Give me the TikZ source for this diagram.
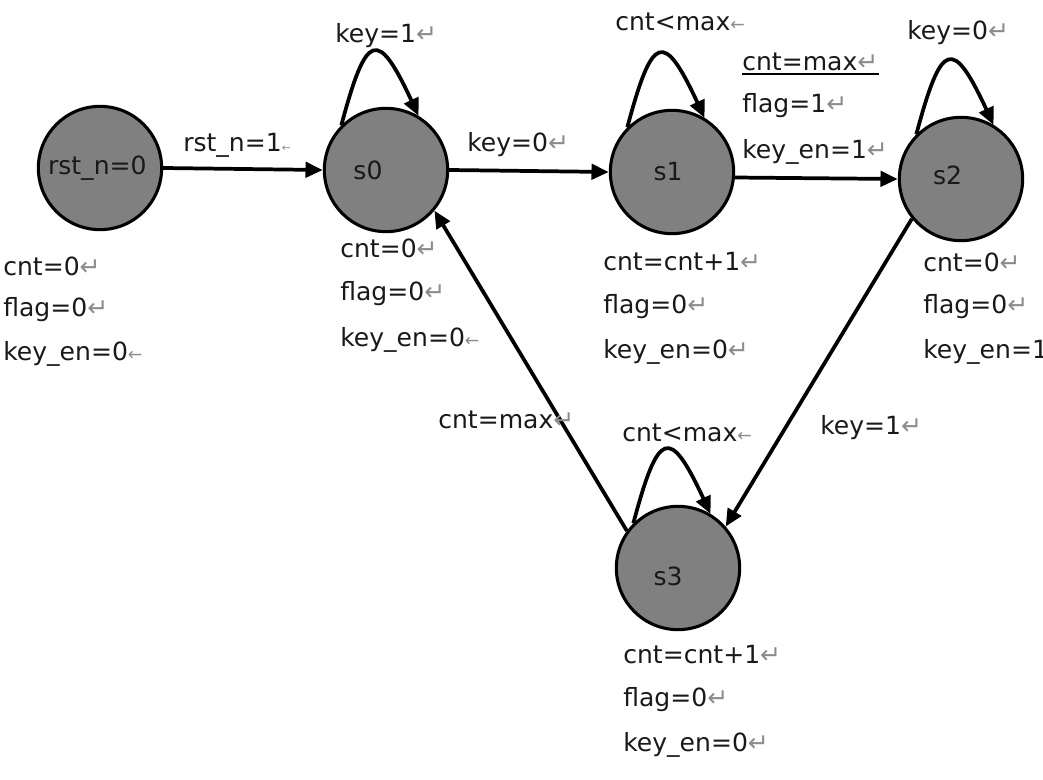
\documentclass[tikz,border=0pt]{standalone}
\usepackage{fontspec}
\setmainfont{DejaVu Sans}
\usetikzlibrary{arrows.meta}
\definecolor{statefill}{RGB}{128,128,128}
\definecolor{pmark}{RGB}{140,140,140}
\definecolor{txt}{RGB}{25,25,25}
\newcommand{\parmark}{\textcolor{pmark}{↵}}
\newcommand{\smark}{\textcolor{pmark}{\fontsize{13pt}{13pt}\selectfont ←}}
\newcommand{\tmark}{\textcolor{pmark}{\fontsize{8pt}{8pt}\selectfont ←}}
\begin{document}
\begin{tikzpicture}[x=0.75pt,y=0.75pt,
  state/.style={circle, draw=black, line width=2.3pt, fill=statefill, minimum size=92.5pt, inner sep=0pt},
  lbl/.style={anchor=west, inner sep=0pt, text=txt, font=\fontsize{18.8pt}{22pt}\selectfont},
  stxt/.style={inner sep=0pt, text=txt, font=\fontsize{18.8pt}{22pt}\selectfont},
  edge/.style={line width=2.8pt, -{Triangle[length=13pt,width=11.5pt]}},
  loopedge/.style={edge, out=75, in=115, looseness=3.2}]
\useasboundingbox (0,0) rectangle (1043,779);

% states
\node[state, label={[stxt, name=rstt, xshift=-2pt]center:rst\_n=0}] (rst) at (100,611) {};
\node[state, label={[stxt, name=s0t, xshift=-13.5pt]center:s0}] (s0) at (386,609) {};
\node[state, label={[stxt, name=s1t, xshift=-3pt]center:s1}] (s1) at (672,607) {};
\node[state, label={[stxt, name=s2t, xshift=-10pt, yshift=3pt]center:s2}] (s2) at (961,600) {};
\node[state, label={[stxt, name=s3t, xshift=-7.5pt, yshift=-6.5pt]center:s3}] (s3) at (678,211) {};

% transitions
\draw[edge] (rst.east) -- (s0.west);
\draw[edge] (s0.east) -- (s1.west);
\draw[edge] (s1.-5) -- (s2.west);
\draw[edge] (s2.219) -- (s3.41);
\draw[edge] (s3.144) -- (s0.-40);

% self loops
\draw[loopedge] (s0.135) to (s0.59);
\draw[loopedge] (s1.135) to (s1.59);
\draw[loopedge] (s2.135) to (s2.59);
\draw[loopedge] (s3.135) to (s3.59);

% edge labels
\node[lbl] (lrst) at (183,634) {rst\_n=1\tmark};
\node[lbl] (lk1) at (335,743) {key=1\parmark};
\node[lbl] (lk0) at (467,634) {key=0\parmark};
\node[lbl] (lc1) at (615,757) {cnt<max\smark};
\node[lbl] (lcm) at (742,717) {cnt=max\parmark};
\draw[line width=1.6pt] ([yshift=-2pt]lcm.south west) -- ([yshift=-2pt]lcm.south east);
\node[lbl] (lf1) at (742,673) {flag=1\parmark};
\node[lbl] (le1) at (742,627) {key\_en=1\parmark};
\node[lbl] (lk2) at (907,746) {key=0\parmark};
\node[lbl] (lcm2) at (438,359) {cnt=max\parmark};
\node[lbl] (lk3) at (820,351) {key=1\parmark};
\node[lbl] (lc3) at (622,346) {cnt<max\smark};

% rst outputs
\node[lbl] (r1) at (3,513) {cnt=0\parmark};
\node[lbl] (r2) at (3,469) {flag=0\parmark};
\node[lbl] (r3) at (3,425) {key\_en=0\smark};
% s0 outputs
\node[lbl] (a1) at (340,531) {cnt=0\parmark};
\node[lbl] (a2) at (340,485) {flag=0\parmark};
\node[lbl] (a3) at (340,439) {key\_en=0\smark};
% s1 outputs
\node[lbl] (b1) at (603,517) {cnt=cnt+1\parmark};
\node[lbl] (b2) at (603,472) {flag=0\parmark};
\node[lbl] (b3) at (603,427) {key\_en=0\parmark};
% s2 outputs
\node[lbl] (c1) at (923,517) {cnt=0\parmark};
\node[lbl] (c2) at (923,472) {flag=0\parmark};
\node[lbl] (c3) at (923,427) {key\_en=1};
% s3 outputs
\node[lbl] (d1) at (623,124) {cnt=cnt+1\parmark};
\node[lbl] (d2) at (623,79) {flag=0\parmark};
\node[lbl] (d3) at (623,34) {key\_en=0\parmark};
\end{tikzpicture}
\end{document}
